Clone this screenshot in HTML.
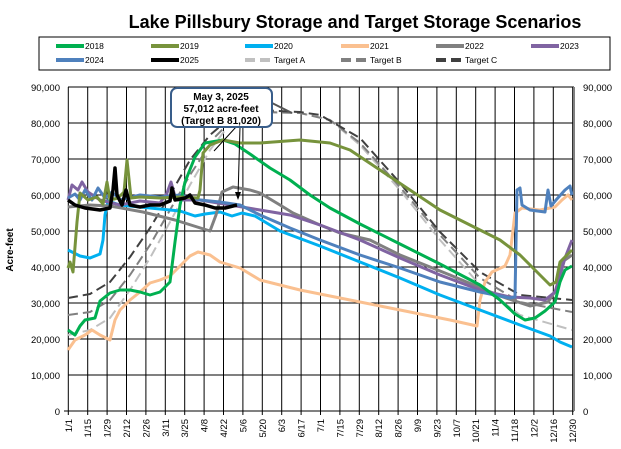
<!DOCTYPE html>
<html><head><meta charset="utf-8"><style>
body{margin:0;background:#fff;width:621px;height:444px;overflow:hidden}
svg{font-family:"Liberation Sans",Arial,sans-serif}
</style></head><body>
<svg width="621" height="444" viewBox="0 0 621 444" xmlns="http://www.w3.org/2000/svg">
<text x="355" y="28" font-size="18" font-weight="bold" text-anchor="middle">Lake Pillsbury Storage and Target Storage Scenarios</text>
<rect x="39" y="37" width="571" height="33" fill="#fff" stroke="#000" stroke-width="1"/>
<g font-size="8.5" stroke-width="4">
<line x1="56" y1="46" x2="84" y2="46" stroke="#00b050"/><text x="85" y="49">2018</text>
<line x1="151" y1="46" x2="179" y2="46" stroke="#77933c"/><text x="180" y="49">2019</text>
<line x1="245" y1="46" x2="273" y2="46" stroke="#00b0f0"/><text x="274" y="49">2020</text>
<line x1="341" y1="46" x2="369" y2="46" stroke="#fac090"/><text x="370" y="49">2021</text>
<line x1="436" y1="46" x2="464" y2="46" stroke="#808080"/><text x="465" y="49">2022</text>
<line x1="531" y1="46" x2="559" y2="46" stroke="#8064a2"/><text x="560" y="49">2023</text>
<line x1="56" y1="60" x2="84" y2="60" stroke="#4f81bd"/><text x="85" y="63">2024</text>
<line x1="151" y1="60" x2="179" y2="60" stroke="#000"/><text x="180" y="63">2025</text>
<line x1="245" y1="60" x2="273" y2="60" stroke="#c0c0c0" stroke-dasharray="10,5"/><text x="274" y="63">Target A</text>
<line x1="341" y1="60" x2="369" y2="60" stroke="#808080" stroke-dasharray="10,5"/><text x="370" y="63">Target B</text>
<line x1="436" y1="60" x2="464" y2="60" stroke="#404040" stroke-dasharray="10,5"/><text x="465" y="63">Target C</text>
</g>
<g stroke="#000" stroke-width="1">
<line x1="68" y1="87" x2="574" y2="87"/><line x1="68" y1="123" x2="574" y2="123"/><line x1="68" y1="159" x2="574" y2="159"/><line x1="68" y1="195" x2="574" y2="195"/><line x1="68" y1="231" x2="574" y2="231"/><line x1="68" y1="267" x2="574" y2="267"/><line x1="68" y1="303" x2="574" y2="303"/><line x1="68" y1="339" x2="574" y2="339"/><line x1="68" y1="375" x2="574" y2="375"/><line x1="64" y1="411" x2="574" y2="411"/>
</g>
<g stroke="#000" stroke-width="1" id="vg"></g>
<line x1="574" y1="87" x2="574" y2="411" stroke="#808080" stroke-width="2"/>
<g font-size="9.5" text-anchor="end">
<text x="60" y="91">90,000</text><text x="60" y="127">80,000</text><text x="60" y="163">70,000</text><text x="60" y="199">60,000</text><text x="60" y="235">50,000</text><text x="60" y="271">40,000</text><text x="60" y="307">30,000</text><text x="60" y="343">20,000</text><text x="60" y="379">10,000</text><text x="60" y="415">0</text>
</g>
<g font-size="9.5">
<text x="583" y="91">90,000</text><text x="583" y="127">80,000</text><text x="583" y="163">70,000</text><text x="583" y="199">60,000</text><text x="583" y="235">50,000</text><text x="583" y="271">40,000</text><text x="583" y="307">30,000</text><text x="583" y="343">20,000</text><text x="583" y="379">10,000</text><text x="583" y="415">0</text>
</g>
<text transform="translate(13,250) rotate(-90)" font-size="10" font-weight="bold" text-anchor="middle">Acre-feet</text>
<g id="xl" font-size="9.5"></g>
<g fill="none" stroke-width="3" stroke-linejoin="round">
<polyline stroke="#c0c0c0" stroke-width="2" stroke-dasharray="10,5" points="68,335 90,330 110,318 130,290 150,258 170,222 190,185 210,150 232,121 260,112 300,113 330,120 360,145 400,190 440,240 480,285 520,315 572,330"/>
<polyline stroke="#808080" stroke-width="2" stroke-dasharray="10,5" points="68,315 90,312 110,300 130,275 150,245 170,210 190,175 215,137 233,119 260,112 300,113 330,120 360,143 400,187 440,235 480,278 520,302 572,312"/>
<polyline stroke="#404040" stroke-width="2" stroke-dasharray="10,5" points="68,298 90,294 110,282 130,257 150,228 170,195 190,160 210,135 230,118 260,110 300,112 320,115 360,138 400,183 440,232 480,272 520,295 572,300"/>
<polyline stroke="#fac090" points="68,350 75,340 85,335 92,330 100,335 110,340 115,320 120,310 130,300 140,292 150,283 160,280 170,276 180,266 190,256 198,252 210,255 220,262 240,268 260,280 300,290 350,300 400,310 450,320 477,326 480,300 485,282 492,272 505,266 510,255 515,213 522,208 540,210 555,207 562,200 568,195 572,200"/>
<polyline stroke="#00b0f0" points="68,250 80,256 90,258 100,254 103,240 105,215 108,201 120,205 150,208 180,211 195,216 205,214 220,212 232,216 242,213 255,216 265,222 280,231 320,246 360,262 400,278 440,295 480,310 520,325 550,336 560,342 572,347"/>
<polyline stroke="#808080" points="68,207 90,205 110,206 143,212 175,220 210,231 216,215 222,192 233,187 250,190 260,193 280,205 293,213 320,225 340,233 370,240 400,255 450,275 500,296 530,306 548,302 556,290 562,262 572,255"/>
<polyline stroke="#8064a2" points="68,200 72,185 78,190 82,182 88,192 100,200 120,205 140,201 160,203 167,193 171,182 176,200 200,200 230,205 260,210 290,215 320,225 360,240 400,258 440,275 480,290 510,297 530,298 545,300 555,292 560,276 565,258 572,240"/>
<polyline stroke="#4f81bd" points="68,198 75,194 80,200 85,190 92,200 98,188 105,198 112,192 120,200 140,195 160,197 180,195 200,200 220,202 240,205 260,215 290,228 320,240 360,255 400,268 440,282 480,292 510,298 515,297 517,190 520,188 522,205 530,210 545,212 548,190 551,206 556,200 565,190 570,186 572,195"/>
<polyline stroke="#00b050" points="68,330 75,335 80,326 85,320 95,318 100,301 110,293 120,290 130,290 140,292 150,295 160,292 170,282 175,242 180,205 185,182 195,157 205,143 223,140 235,144 250,154 270,168 290,180 310,195 330,208 360,224 400,244 440,264 480,285 500,300 515,314 525,320 535,318 545,311 555,302 560,282 565,270 572,266"/>
<polyline stroke="#77933c" points="68,268 70,262 73,272 77,222 80,193 88,200 97,197 103,204 107,182 110,200 118,198 124,192 127,160 131,198 140,197 160,198 180,197 198,198 200,190 203,153 210,145 223,140 240,143 260,143 300,140 330,143 350,150 380,170 410,190 440,210 470,225 500,240 520,255 540,275 550,285 556,282 560,262 572,250"/>
<polyline stroke="#000" stroke-width="3.5" points="68,200 75,205 85,208 100,210 110,208 113,190 115,168 117,195 122,205 126,190 130,205 140,207 150,205 160,205 170,201 172,188 175,200 185,198 190,195 195,203 205,205 215,208 225,208 237,205"/>
</g>
<line x1="236" y1="127" x2="214" y2="151" stroke="#000" stroke-width="1"/>
<line x1="240" y1="127" x2="238" y2="197" stroke="#000" stroke-width="1"/>
<polygon points="238,200 235,192 241,192" fill="#000"/>
<line x1="272" y1="103" x2="292" y2="113" stroke="#555" stroke-width="2"/>
<rect x="171" y="88" width="101" height="39" rx="6" fill="#fff" stroke="#385d8a" stroke-width="2"/>
<g font-size="10" font-weight="bold" text-anchor="middle">
<text x="221" y="100">May 3, 2025</text><text x="221" y="112">57,012 acre-feet</text><text x="221" y="124">(Target B 81,020)</text>
</g>
<script>
var L=["1/1","1/15","1/29","2/12","2/26","3/11","3/25","4/8","4/22","5/6","5/20","6/3","6/17","7/1","7/15","7/29","8/12","8/26","9/9","9/23","10/7","10/21","11/4","11/18","12/2","12/16","12/30"];
var vg=document.getElementById("vg"),xl=document.getElementById("xl"),ns="http://www.w3.org/2000/svg";
for(var i=0;i<27;i++){var x=68.3+i*19.4;var l=document.createElementNS(ns,"line");l.setAttribute("x1",x);l.setAttribute("x2",x);l.setAttribute("y1",87);l.setAttribute("y2",415);vg.appendChild(l);
var t=document.createElementNS(ns,"text");t.setAttribute("transform","translate("+(x+3.5)+",419) rotate(-90)");t.setAttribute("text-anchor","end");t.textContent=L[i];xl.appendChild(t);}
</script>
</svg>
</body></html>
